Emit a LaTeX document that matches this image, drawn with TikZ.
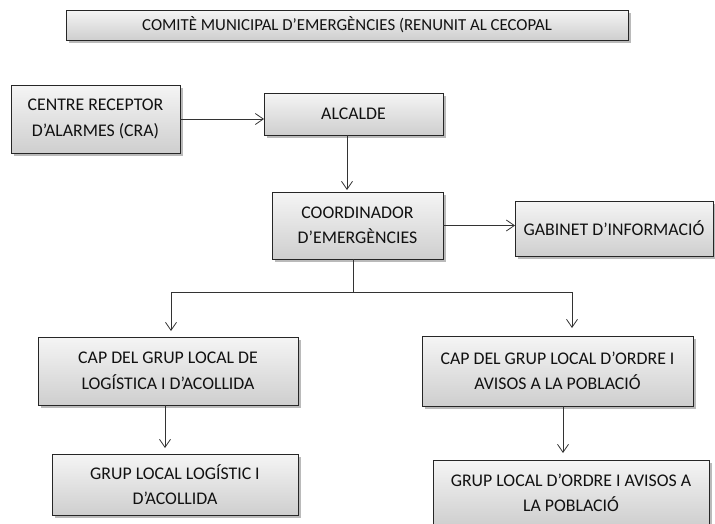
\documentclass[tikz,border=0pt]{standalone}
\usepackage{fontspec}
\setmainfont{Carlito}
\usetikzlibrary{arrows.meta,shadows}
\definecolor{txtgray}{HTML}{111111}
\begin{document}
\begin{tikzpicture}[x=1pt,y=1pt,inner sep=0pt,outer sep=0pt,line width=0.9pt,
orgbox/.style={draw=black!85,rectangle,align=center,text=txtgray,
  top color=gray!8,bottom color=gray!38,
  drop shadow={shadow xshift=2.5pt,shadow yshift=-2.5pt,fill=black!45,opacity=0.6},
  font=\fontsize{17.8}{25.5}\selectfont},
link/.style={draw=black!80,line width=0.8pt,-{Straight Barb[length=8pt,width=11pt,line width=0.8pt]}}]
\useasboundingbox (0,0) rectangle (715,-523);
\draw (347,-25) node[orgbox,minimum width=562,minimum height=30,font=\fontsize{16.8}{24}\selectfont] (comite) {COMITÈ MUNICIPAL D’EMERGÈNCIES (RENUNIT AL CECOPAL};
\draw (95.5,-119) node[orgbox,minimum width=169,minimum height=68] (cra) {CENTRE RECEPTOR\\D’ALARMES (CRA)};
\draw (353.5,-114) node[orgbox,minimum width=179,minimum height=42] (alcalde) {ALCALDE};
\draw (357.5,-225.5) node[orgbox,minimum width=171,minimum height=67] (coord) {COORDINADOR\\D’EMERGÈNCIES};
\draw (614,-228.5) node[orgbox,minimum width=198,minimum height=55] (gabinet) {GABINET D’INFORMACIÓ};
\draw (168,-371) node[orgbox,minimum width=260,minimum height=68] (caplog) {CAP DEL GRUP LOCAL DE\\LOGÍSTICA I D’ACOLLIDA};
\draw (557.5,-371) node[orgbox,minimum width=271,minimum height=70] (capord) {CAP DEL GRUP LOCAL D’ORDRE I\\AVISOS A LA POBLACIÓ};
\draw (175,-484.5) node[orgbox,minimum width=246,minimum height=61] (grlog) {GRUP LOCAL LOGÍSTIC I\\D’ACOLLIDA};
\draw (571,-493) node[orgbox,minimum width=276,minimum height=66] (grord) {GRUP LOCAL D’ORDRE I AVISOS A\\LA POBLACIÓ};
\draw[link] (cra) -- (cra -| alcalde.west);
\draw[link,shorten >=2pt] ([xshift=-6.5pt]alcalde.south) -- ([xshift=-6.5pt]alcalde.south |- coord.north);
\draw[link] (coord) -- (coord -| gabinet.west);
\draw[draw=black!80,line width=0.8pt] ([xshift=-4.5pt]coord.south) -- ++(0,-33) coordinate (split);
\draw[link,shorten >=6pt] (split) -| ([xshift=3pt]caplog.north);
\draw[link,shorten >=8pt] (split) -| ([xshift=14.5pt]capord.north);
\draw[link,shorten >=6pt] ([xshift=-3pt]caplog.south) -- ([xshift=-3pt]caplog.south |- grlog.north);
\draw[link,shorten >=7pt] ([xshift=5.5pt]capord.south) -- ([xshift=5.5pt]capord.south |- grord.north);
\end{tikzpicture}
\end{document}
